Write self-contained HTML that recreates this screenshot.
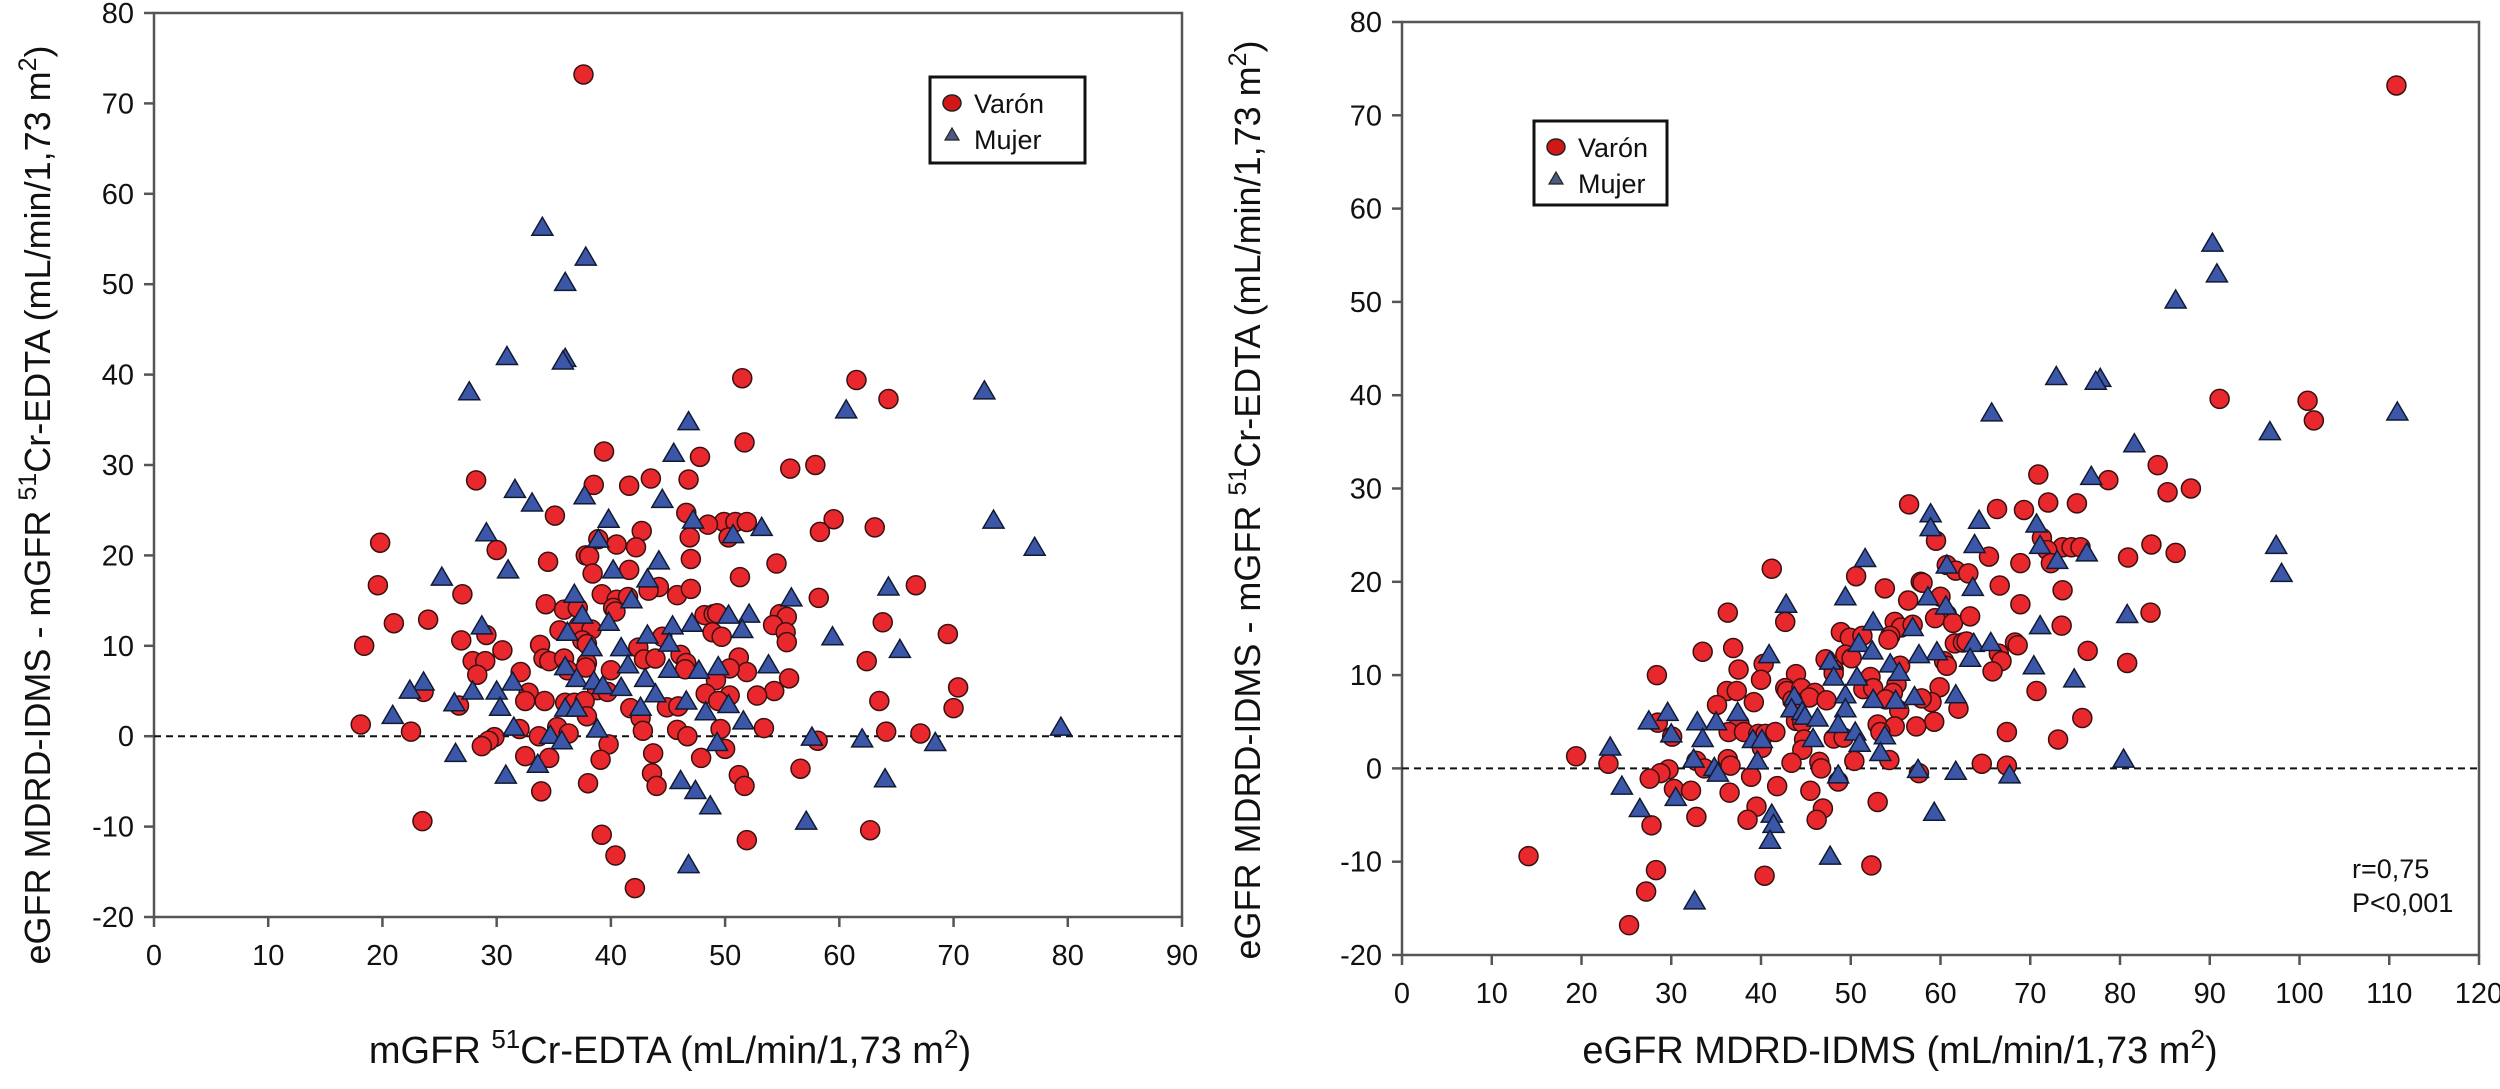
<!DOCTYPE html>
<html><head><meta charset="utf-8">
<style>
html,body{margin:0;padding:0;background:#fff;}
svg{display:block;font-family:"Liberation Sans",Arial,sans-serif;}
</style></head>
<body>
<svg id="fig" width="2500" height="1089" viewBox="0 0 2500 1089" xmlns="http://www.w3.org/2000/svg"></svg>
<script>
// Data: [mGFR 51Cr-EDTA, eGFR - mGFR]
const maleData = [[37.6,73.2],[51.5,39.6],[61.5,39.4],[64.3,37.3],[51.7,32.5],[39.4,31.5],[47.8,30.9],[55.7,29.6],[57.9,30.0],[28.2,28.3],[46.8,28.4],[43.5,28.5],[38.5,27.8],[41.6,27.7],[35.1,24.4],[46.6,24.7],[49.9,23.7],[50.9,23.7],[51.9,23.7],[48.5,23.4],[59.5,24.0],[63.1,23.1],[42.7,22.7],[58.3,22.6],[50.3,22.0],[46.9,22.0],[19.8,21.4],[38.9,21.8],[40.5,21.2],[42.2,20.9],[30.0,20.6],[37.8,20.0],[38.1,19.9],[47.0,19.6],[34.5,19.3],[54.5,19.1],[41.6,18.4],[38.4,18.0],[51.3,17.6],[19.6,16.7],[66.7,16.7],[27.0,15.7],[44.2,16.5],[43.3,16.1],[39.2,15.7],[45.8,15.6],[47.0,16.3],[40.5,15.1],[41.5,15.4],[58.2,15.3],[34.3,14.6],[35.9,14.0],[37.1,14.2],[40.2,14.2],[40.4,13.8],[48.2,13.4],[49.0,13.5],[49.3,13.6],[54.8,13.5],[55.4,13.2],[24.0,12.9],[21.0,12.5],[63.8,12.6],[54.2,12.3],[35.5,11.7],[37.2,12.2],[38.3,11.8],[55.3,11.5],[48.9,11.5],[49.7,11.0],[29.1,11.2],[69.5,11.3],[37.5,10.6],[37.9,10.2],[26.9,10.6],[55.4,10.4],[33.8,10.1],[18.4,10.0],[42.4,9.8],[44.5,11.0],[30.5,9.5],[46.1,9.0],[34.1,8.6],[34.6,8.3],[35.9,8.6],[42.9,8.5],[43.9,8.6],[46.6,8.1],[27.9,8.3],[29.0,8.3],[37.9,8.1],[62.4,8.3],[51.2,8.7],[46.5,7.4],[51.9,7.1],[37.8,7.6],[40.0,7.3],[28.3,6.8],[32.1,7.1],[50.4,7.5],[36.2,7.3],[55.6,6.4],[49.2,6.2],[70.4,5.4],[23.6,4.9],[38.8,5.1],[39.7,4.9],[32.8,4.8],[54.3,5.0],[52.8,4.5],[48.3,4.7],[50.4,4.5],[32.5,3.9],[63.5,3.9],[34.2,3.9],[36.0,3.7],[36.8,3.7],[37.7,3.9],[49.4,3.9],[26.7,3.4],[44.9,3.2],[45.9,3.3],[41.7,3.1],[70.0,3.1],[37.9,2.2],[42.6,2.0],[18.1,1.3],[32.0,0.8],[35.3,1.0],[53.4,0.9],[49.6,0.8],[42.8,0.6],[45.8,0.7],[22.5,0.5],[64.1,0.5],[67.1,0.3],[36.3,0.3],[33.7,0.0],[46.7,0.0],[29.8,-0.1],[29.3,-0.5],[58.1,-0.5],[28.7,-1.1],[39.8,-0.9],[50.0,-1.4],[43.7,-1.9],[32.5,-2.2],[34.6,-2.4],[47.9,-2.4],[39.1,-2.6],[56.6,-3.6],[43.6,-4.1],[51.2,-4.3],[38.0,-5.2],[44.0,-5.5],[51.7,-5.5],[33.9,-6.1],[23.5,-9.4],[62.7,-10.4],[39.2,-10.9],[51.9,-11.5],[40.4,-13.2],[42.1,-16.8]];
const femaleData = [[34.0,56.3],[37.8,53.0],[36.0,50.2],[30.9,42.0],[36.0,41.8],[35.8,41.5],[27.6,38.1],[72.7,38.2],[60.6,36.1],[46.8,34.8],[45.5,31.3],[31.6,27.3],[37.7,26.6],[44.5,26.2],[33.1,25.8],[39.8,24.0],[47.2,23.9],[53.2,23.1],[73.5,23.9],[29.1,22.5],[50.7,22.3],[38.9,21.8],[77.1,20.9],[44.2,19.4],[31.0,18.4],[40.2,18.4],[25.2,17.6],[43.2,17.4],[64.3,16.5],[36.8,15.7],[41.8,15.1],[55.8,15.3],[50.3,13.4],[52.1,13.5],[28.7,12.2],[37.5,13.4],[39.8,12.6],[47.1,12.5],[45.4,12.2],[51.5,11.8],[36.2,11.5],[43.2,11.2],[59.4,11.0],[45.1,10.3],[40.9,9.8],[38.3,9.8],[65.3,9.6],[41.5,7.9],[36.0,7.7],[49.4,7.7],[53.8,7.9],[47.7,7.3],[45.1,7.4],[37.0,6.4],[43.0,6.4],[31.4,6.0],[23.6,6.0],[38.5,6.1],[22.4,5.1],[27.9,5.0],[30.0,5.0],[39.3,5.6],[40.9,5.4],[43.9,4.7],[26.3,3.7],[46.6,3.9],[30.3,3.2],[50.3,3.5],[42.6,3.2],[36.0,3.1],[37.0,3.1],[48.3,2.7],[20.9,2.3],[51.6,1.7],[31.5,1.0],[38.8,0.8],[79.4,1.0],[34.7,0.1],[57.6,-0.1],[62.0,-0.3],[35.7,-0.5],[68.4,-0.7],[49.3,-0.7],[26.4,-1.9],[33.6,-3.1],[30.8,-4.3],[64.0,-4.7],[46.1,-4.9],[47.4,-6.0],[48.7,-7.7],[57.1,-9.4],[46.8,-14.2]];
const leftXTicks = [0,10,20,30,40,50,60,70,80,90];
const rightXTicks = [0,10,20,30,40,50,60,70,80,90,100,110,120];
const yTicks = [-20,-10,0,10,20,30,40,50,60,70,80];

const NS = "http://www.w3.org/2000/svg";
const svg = document.getElementById('fig');
function mk(tag, attrs, parent){const e=document.createElementNS(NS,tag);for(const k in attrs)e.setAttribute(k,attrs[k]);(parent||svg).appendChild(e);return e;}

function drawPanel(p){
  const g = mk('g',{});
  
  
  const sx = v => p.x0 + (v - p.xmin)/(p.xmax - p.xmin)*(p.x1 - p.x0);
  const sy = v => p.yb + (v - (-20))/(100)*(p.yt - p.yb);
  const fr = mk('rect',{x:p.x0,y:p.yt,width:p.x1-p.x0,height:p.yb-p.yt,fill:'none',stroke:'#555','stroke-width':2.5},g);
  
  
  yTicks.forEach(t=>{
    const y=sy(t);
    mk('line',{x1:p.x0-10,x2:p.x0,y1:y,y2:y,stroke:'#555','stroke-width':2.5},g);
    const tx=mk('text',{x:p.x0-20,y:y+10,'text-anchor':'end','font-size':29,fill:'#111'},g);
    tx.textContent=t;
    
    
  });
  p.xticks.forEach(t=>{
    const x=sx(t);
    mk('line',{x1:x,x2:x,y1:p.yb,y2:p.yb+10,stroke:'#555','stroke-width':2.5},g);
    const tx=mk('text',{x:x,y:p.yb+48,'text-anchor':'middle','font-size':29,fill:'#111'},g);
    tx.textContent=t;
    
    
  });
  const zl=mk('line',{x1:p.x0,x2:p.x1,y1:sy(0),y2:sy(0),stroke:'#111','stroke-width':2,'stroke-dasharray':'7,5'},g);
  
  
  maleData.forEach(d=>{
    const xv = p.xval(d);
    const c=mk('circle',{cx:sx(xv),cy:sy(d[1]),r:9.5,fill:'#e8282d',stroke:'#3a1010','stroke-width':1.5},g);
    
    
  });
  femaleData.forEach(d=>{
    const xv = p.xval(d);
    const x=sx(xv), y=sy(d[1]);
    const t=mk('polygon',{points:`${x},${y-10} ${x+10.5},${y+8} ${x-10.5},${y+8}`,fill:'#3d57a8',stroke:'#111a33','stroke-width':1.5},g);
    
    
  });
  const lg=mk('g',{},g);
  
  
  const L=p.legend;
  mk('rect',{x:L.x,y:L.y,width:L.w,height:L.h,fill:'#fff',stroke:'#111','stroke-width':3},lg);
  mk('ellipse',{cx:L.x+22,cy:L.y+26,rx:9,ry:8,fill:'#d01818',stroke:'#222','stroke-width':1.5},lg);
  const t1=mk('text',{x:L.x+44,y:L.y+36,'font-size':27,fill:'#111'},lg); t1.textContent='Varón';
  
  
  mk('polygon',{points:`${L.x+22},${L.y+51} ${L.x+29},${L.y+63} ${L.x+15},${L.y+63}`,fill:'#4a5a80',stroke:'#222','stroke-width':1.2},lg);
  const t2=mk('text',{x:L.x+44,y:L.y+72,'font-size':27,fill:'#111'},lg); t2.textContent='Mujer';
  
  
  const yt=mk('text',{x:0,y:0,'text-anchor':'middle','font-size':36,fill:'#111',transform:`translate(${p.ytx},${p.ytc}) rotate(-90)`},g);
  
  
  yt.innerHTML='eGFR MDRD-IDMS - mGFR <tspan baseline-shift="super" font-size="25">51</tspan>Cr-EDTA (mL/min/1,73 m<tspan baseline-shift="super" font-size="25">2</tspan>)';
  const xt=mk('text',{x:p.xtc,y:1063,'text-anchor':'middle','font-size':38,fill:'#111'},g);
  
  
  xt.innerHTML=p.xtitle;
}

drawPanel({name:'left-chart',x0:154,x1:1182,yt:13,yb:917,xmin:0,xmax:90,xticks:leftXTicks,
  xval:d=>d[0], legend:{x:930,y:77,w:155,h:86}, ytx:50, ytc:505, xtc:670,
  xtitle:'mGFR <tspan baseline-shift="super" font-size="26">51</tspan>Cr-EDTA (mL/min/1,73 m<tspan baseline-shift="super" font-size="26">2</tspan>)'});
drawPanel({name:'right-chart',x0:1402,x1:2479,yt:22,yb:955,xmin:0,xmax:120,xticks:rightXTicks,
  xval:d=>d[0]+d[1], legend:{x:1534,y:121,w:133,h:84}, ytx:1260, ytc:500, xtc:1900,
  xtitle:'eGFR MDRD-IDMS (mL/min/1,73 m<tspan baseline-shift="super" font-size="26">2</tspan>)'});

const r1=mk('text',{x:2352,y:878,'font-size':27,fill:'#111'}); r1.textContent='r=0,75';


const r2=mk('text',{x:2352,y:912,'font-size':27,fill:'#111'}); r2.textContent='P<0,001';


</script>
</body></html>
